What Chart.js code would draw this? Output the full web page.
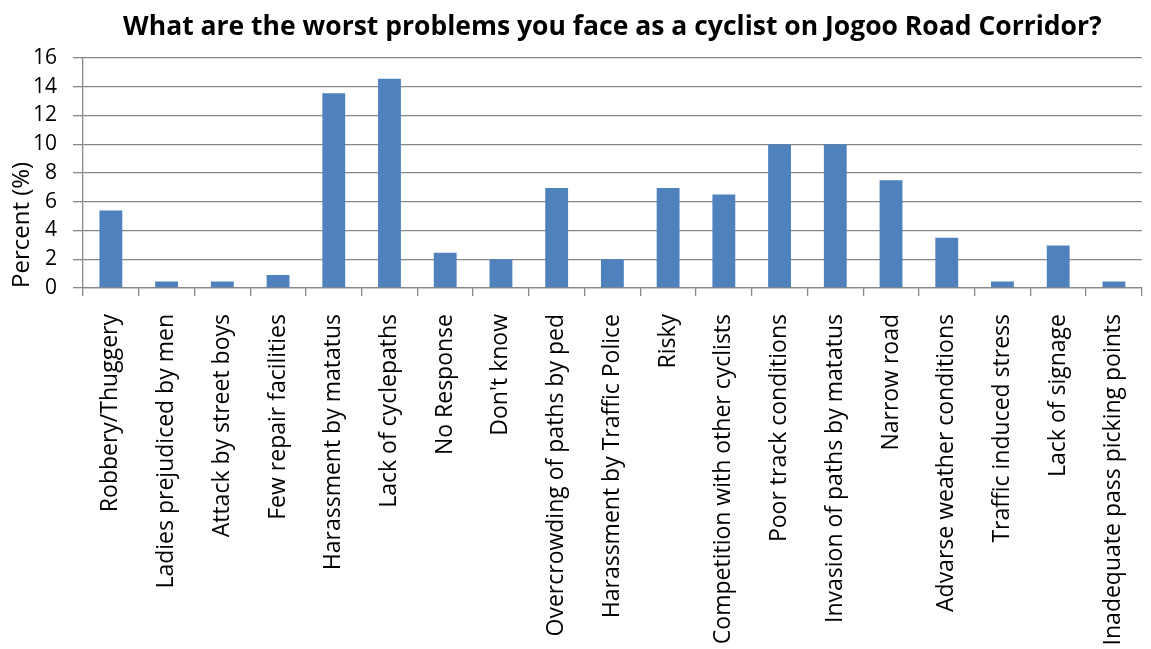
<!DOCTYPE html>
<html>
<head>
<meta charset="utf-8">
<script src="https://cdn.jsdelivr.net/npm/chart.js@4"></script>
<style>
  html, body { margin: 0; padding: 0; background: #fff; overflow: hidden; }
  #wrap { width: 1160px; height: 649px; position: relative; }
</style>
</head>
<body>
<div id="wrap"><canvas id="problemsChart"></canvas></div>
<script>
const categories = [
  'Robbery/Thuggery', 'Ladies prejudiced by men', 'Attack by street boys',
  'Few repair facilities', 'Harassment by matatus', 'Lack of cyclepaths',
  'No Response', "Don't know", 'Overcrowding of paths by ped',
  'Harassment by Traffic Police', 'Risky', 'Competition with other cyclists',
  'Poor track conditions', 'Invasion of paths by matatus', 'Narrow road',
  'Advarse weather conditions', 'Traffic induced stress', 'Lack of signage',
  'Inadequate pass picking points'
];
const percents = [5.4, 0.45, 0.45, 0.9, 13.55, 14.55, 2.45, 2, 6.95, 2, 6.95, 6.5, 10, 10, 7.5, 3.5, 0.45, 2.95, 0.45];
const yTicks = [0, 2, 4, 6, 8, 10, 12, 14, 16];

const FONT = "'Open Sans', Lato, sans-serif";
const GRID = '#878787';

new Chart(document.getElementById('problemsChart'), {
  type: 'bar',
  data: {
    labels: categories,
    datasets: [{
      label: 'Percent',
      data: percents,
      backgroundColor: '#4f81bd',
      barPercentage: 0.41,
      categoryPercentage: 1
    }]
  },
  options: {
    responsive: true,
    maintainAspectRatio: false,
    animation: false,
    layout: { padding: 0 },
    plugins: {
      legend: { display: false },
      tooltip: { enabled: false },
      title: {
        display: true,
        fullSize: false,
        text: 'What are the worst problems you face as a cyclist on Jogoo Road Corridor?',
        color: '#000',
        font: { family: FONT, size: 26.5, weight: 'bold', lineHeight: 1.2 },
        padding: { top: 11.5, bottom: 14.7 }
      }
    },
    scales: {
      x: {
        offset: true,
        afterFit: axis => { axis.height = 361; },
        grid: { display: true, offset: true, drawOnChartArea: false, color: GRID, tickLength: 8, lineWidth: 1.3 },
        border: { color: GRID, width: 1.3 },
        ticks: {
          color: '#000',
          font: { family: FONT, size: 23 },
          minRotation: 90,
          maxRotation: 90,
          autoSkip: false,
          padding: 18
        }
      },
      y: {
        min: 0,
        max: 16,
        afterFit: axis => { axis.width = 83; },
        afterBuildTicks: axis => { axis.ticks = yTicks.map(v => ({ value: v })); },
        grid: { color: GRID, tickLength: 10, lineWidth: 1.3 },
        border: { color: GRID, width: 1.3 },
        ticks: {
          color: '#000',
          font: { family: FONT, size: 21 },
          padding: 16
        },
        title: {
          display: true,
          text: 'Percent (%)',
          align: 'start',
          color: '#000',
          font: { family: FONT, size: 24, lineHeight: 1.2 },
          padding: { top: 8, bottom: 0 }
        }
      }
    }
  }
});
</script>
</body>
</html>
